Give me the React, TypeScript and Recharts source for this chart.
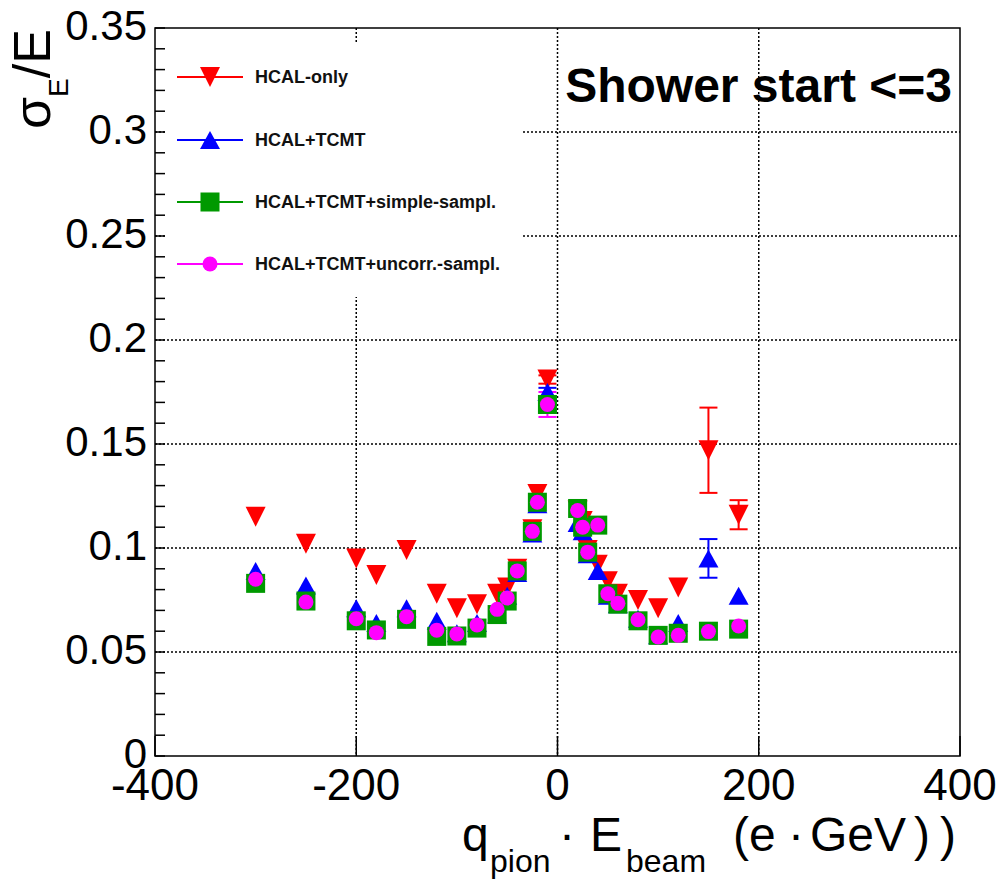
import React from 'react';
import { ScatterChart, Scatter, XAxis, YAxis, CartesianGrid, ErrorBar, ReferenceArea } from 'recharts';

const FONT = '"Liberation Sans", Arial, Helvetica, sans-serif';

// beam energies (q_pion * E_beam)
const energies = [-300, -250, -200, -180, -150, -120, -100, -80, -60, -50, -40, -25, -20, -10, 20, 25, 30, 40, 50, 60, 80, 100, 120, 150, 180];

const hcalOnly = [0.115, 0.102, 0.095, 0.087, 0.099, 0.078, 0.071, 0.073, 0.078, 0.081, 0.090, 0.109, 0.126, 0.181, 0.118, 0.113, 0.099, 0.092, 0.084, 0.078, 0.075, 0.071, 0.081, 0.147, 0.116];
const hcalOnlyErr = [0, 0, 0, 0, 0, 0, 0, 0, 0, 0, 0, 0, 0, 0.002, 0, 0, 0, 0, 0, 0, 0, 0, 0, 0.0205, 0.007];

const hcalTcmt = [0.089, 0.082, 0.071, 0.064, 0.071, 0.065, 0.059, 0.064, 0.068, 0.077, 0.088, 0.107, 0.121, 0.175, 0.112, 0.108, 0.097, 0.089, 0.077, 0.073, 0.066, 0.058, 0.064, 0.095, 0.077];
const hcalTcmtErr = [0, 0, 0, 0, 0, 0, 0, 0, 0, 0, 0, 0, 0, 0.002, 0, 0, 0, 0, 0, 0, 0, 0, 0, 0.0093, 0];

const simpleSampl = [0.083, 0.0745, 0.065, 0.0606, 0.0657, 0.0575, 0.0577, 0.0615, 0.068, 0.0745, 0.089, 0.108, 0.122, 0.169, 0.119, 0.110, 0.098, 0.111, 0.078, 0.073, 0.065, 0.058, 0.059, 0.060, 0.061];
const simpleSamplErr = [0, 0, 0, 0, 0, 0, 0, 0, 0, 0, 0, 0, 0, 0.004, 0, 0, 0, 0, 0, 0, 0, 0, 0, 0, 0];

const uncorrSampl = [0.085, 0.074, 0.066, 0.0593, 0.067, 0.0605, 0.0587, 0.063, 0.0705, 0.076, 0.089, 0.108, 0.122, 0.169, 0.118, 0.110, 0.098, 0.111, 0.078, 0.0734, 0.0655, 0.0572, 0.058, 0.0598, 0.0625];
const uncorrSamplErr = [0, 0, 0, 0, 0, 0, 0, 0, 0, 0, 0, 0, 0, 0.006, 0, 0, 0, 0, 0, 0, 0, 0, 0, 0, 0];

const seriesNames = ['HCAL-only', 'HCAL+TCMT', 'HCAL+TCMT+simple-sampl.', 'HCAL+TCMT+uncorr.-sampl.'];
const seriesColors = ['#ff0000', '#0000ff', '#009900', '#ff00ff'];

const xTicks = [-400, -200, 0, 200, 400];
const xGridValues = [-200, 0, 200];
const yTicks = [0, 0.01, 0.02, 0.03, 0.04, 0.05, 0.06, 0.07, 0.08, 0.09, 0.1, 0.11, 0.12, 0.13, 0.14, 0.15, 0.16, 0.17, 0.18, 0.19, 0.2, 0.21, 0.22, 0.23, 0.24, 0.25, 0.26, 0.27, 0.28, 0.29, 0.3, 0.31, 0.32, 0.33, 0.34, 0.35];
const yMajorTicks = [0, 0.05, 0.1, 0.15, 0.2, 0.25, 0.3, 0.35];
const yGridValues = [0.05, 0.1, 0.15, 0.2, 0.25, 0.3];

const build = (vals: number[], errs: number[]) => energies.map((x, i) => ({ x, y: vals[i], err: errs[i] }));

const redData = build(hcalOnly, hcalOnlyErr);
const blueData = build(hcalTcmt, hcalTcmtErr);
const greenData = build(simpleSampl, simpleSamplErr);
const magentaData = build(uncorrSampl, uncorrSamplErr);

const TriDown = (p: any) => {
  const { cx, cy } = p;
  if (cx == null || cy == null) return <g />;
  return <polygon points={`${cx - 10},${cy - 10} ${cx + 10},${cy - 10} ${cx},${cy + 10}`} fill={seriesColors[0]} />;
};
const TriUp = (p: any) => {
  const { cx, cy } = p;
  if (cx == null || cy == null) return <g />;
  return <polygon points={`${cx - 10},${cy + 9} ${cx + 10},${cy + 9} ${cx},${cy - 9}`} fill={seriesColors[1]} />;
};
const Square = (p: any) => {
  const { cx, cy } = p;
  if (cx == null || cy == null) return <g />;
  return <rect x={cx - 9.5} y={cy - 9.5} width={19} height={19} fill={seriesColors[2]} />;
};
const Circle = (p: any) => {
  const { cx, cy } = p;
  if (cx == null || cy == null) return <g />;
  return <circle cx={cx} cy={cy} r={7.5} fill={seriesColors[3]} />;
};
const shapes = [TriDown, TriUp, Square, Circle];

const XTick = (p: any) => {
  const { x, y, payload } = p;
  return (
    <g>
      <line x1={x} x2={x} y1={y} y2={y - 20} stroke="#000" strokeWidth={1.5} />
      <text x={x} y={y + 44} textAnchor="middle" fontSize={44} fontFamily={FONT} fill="#000">
        {String(payload.value)}
      </text>
    </g>
  );
};

const YTick = (p: any) => {
  const { x, y, payload } = p;
  const v = payload.value;
  const major = yMajorTicks.some((m) => Math.abs(m - v) < 1e-9);
  return (
    <g>
      <line x1={x} x2={x + 10} y1={y} y2={y} stroke="#000" strokeWidth={1.5} />
      {major && (
        <text x={x - 8} y={y - 3} dy="0.36em" textAnchor="end" fontSize={42} fontFamily={FONT} fill="#000">
          {String(v)}
        </text>
      )}
    </g>
  );
};

const legendY = [77, 140, 202, 264];

export default function App() {
  return (
    <div style={{ position: 'absolute', left: 0, top: 0, width: 1001, height: 884, background: '#fff' }}>
      <ScatterChart width={1001} height={884} margin={{ top: 28, right: 41, bottom: 0, left: 0 }}>
        <CartesianGrid
          horizontalValues={yGridValues}
          verticalValues={xGridValues}
          stroke="#000"
          strokeWidth={1.5}
          strokeDasharray="2 2"
        />
        <XAxis
          type="number"
          dataKey="x"
          domain={[-400, 400]}
          ticks={xTicks}
          interval={0}
          height={128}
          axisLine={false}
          tickLine={false}
          tickSize={0}
          tickMargin={0}
          tick={(p: any) => <XTick {...p} />}
          allowDataOverflow
        />
        <YAxis
          type="number"
          dataKey="y"
          domain={[0, 0.35]}
          ticks={yTicks}
          interval={0}
          width={155}
          axisLine={false}
          tickLine={false}
          tickSize={0}
          tickMargin={0}
          tick={(p: any) => <YTick {...p} />}
          allowDataOverflow
        />
        <ReferenceArea x1={-400} x2={400} y1={0} y2={0.35} fill="none" fillOpacity={0} stroke="#000" strokeWidth={1.5} />
        <Scatter data={redData} dataKey="y" fill={seriesColors[0]} shape={TriDown} isAnimationActive={false}>
          <ErrorBar dataKey="err" direction="y" width={9} stroke={seriesColors[0]} strokeWidth={2} />
        </Scatter>
        <Scatter data={blueData} dataKey="y" fill={seriesColors[1]} shape={TriUp} isAnimationActive={false}>
          <ErrorBar dataKey="err" direction="y" width={9} stroke={seriesColors[1]} strokeWidth={2} />
        </Scatter>
        <Scatter data={greenData} dataKey="y" fill={seriesColors[2]} shape={Square} isAnimationActive={false}>
          <ErrorBar dataKey="err" direction="y" width={9} stroke={seriesColors[2]} strokeWidth={2} />
        </Scatter>
        <Scatter data={magentaData} dataKey="y" fill={seriesColors[3]} shape={Circle} isAnimationActive={false}>
          <ErrorBar dataKey="err" direction="y" width={9} stroke={seriesColors[3]} strokeWidth={2} />
        </Scatter>
      </ScatterChart>
      <svg
        width={1001}
        height={884}
        style={{ position: 'absolute', left: 0, top: 0, pointerEvents: 'none' }}
        fontFamily={FONT}
      >
        {/* legend */}
        <rect x={166} y={44} width={357} height={253} fill="#fff" />
        {seriesNames.map((name, i) => {
          const Shape = shapes[i];
          const cy = legendY[i];
          return (
            <g key={name}>
              <line x1={177} x2={243} y1={cy} y2={cy} stroke={seriesColors[i]} strokeWidth={2} />
              <Shape cx={210} cy={cy} />
              <text x={255} y={cy} dy="0.36em" fontSize={18} fontWeight="bold" fill="#111">
                {name}
              </text>
            </g>
          );
        })}
        {/* annotation */}
        <text x={952} y={102} textAnchor="end" fontSize={48} fontWeight="bold" fill="#000">
          Shower start &lt;=3
        </text>
        {/* x title */}
        <g fill="#000">
          <text x={462} y={851} fontSize={48}>q</text>
          <text x={490} y={872} fontSize={32}>pion</text>
          <text x={567} y={851} fontSize={48} textAnchor="middle">·</text>
          <text x={590} y={851} fontSize={48}>E</text>
          <text x={626} y={872} fontSize={32}>beam</text>
          <text x={733} y={851} fontSize={48}>(e</text>
          <text x={796} y={851} fontSize={48} textAnchor="middle">·</text>
          <text x={810} y={851} fontSize={48}>GeV</text>
          <text x={914} y={851} fontSize={48}>)</text>
          <text x={940} y={851} fontSize={48}>)</text>
        </g>
        {/* y title */}
        <text transform="translate(50,129) rotate(-90)" fill="#000" fontSize={52}>
          <tspan>σ</tspan>
          <tspan fontSize={28} dy={18}>E</tspan>
          <tspan dy={-18}>/E</tspan>
        </text>
      </svg>
    </div>
  );
}
